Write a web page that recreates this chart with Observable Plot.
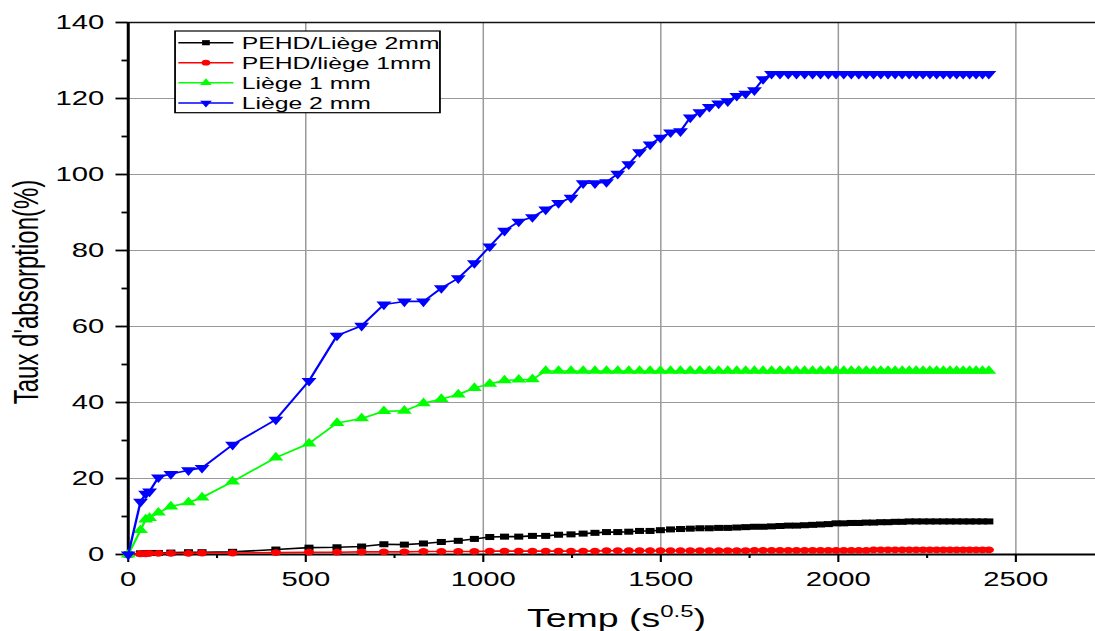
<!DOCTYPE html>
<html>
<head>
<meta charset="utf-8">
<script src="https://cdn.jsdelivr.net/npm/d3@7"></script>
<script src="https://cdn.jsdelivr.net/npm/@observablehq/plot@0.6"></script>
<style>
  body { margin: 0; background: #fff; }
  #chart svg { display: block; }
</style>
</head>
<body>
<div id="chart"></div>
<script>
// Time axis: square root of elapsed time (s^0.5)
const temps = [0, 34.6, 49.0, 60.0, 84.9, 120.0, 169.7, 207.8,
  293.9, 415.7, 509.1, 587.9, 657.3, 720.0, 777.7, 831.4, 881.8, 929.5,
  974.9, 1018.2, 1059.8, 1099.8, 1138.4, 1175.8, 1211.9, 1247.1, 1281.2, 1314.5,
  1347.0, 1378.7, 1409.7, 1440.0, 1469.7, 1498.8, 1527.4, 1555.4, 1582.9, 1610.0,
  1636.6, 1662.8, 1688.5, 1713.9, 1738.9, 1763.6, 1787.9, 1811.9, 1835.6, 1859.0,
  1882.1, 1904.9, 1927.5, 1949.8, 1971.8, 1993.6, 2015.2, 2036.5, 2057.6, 2078.5,
  2099.2, 2119.6, 2139.9, 2159.9, 2179.9, 2199.6, 2219.1, 2238.5, 2257.8, 2276.8,
  2295.7, 2314.5, 2333.1, 2351.5, 2369.8, 2388.0, 2406.0, 2423.9];

// Absorption rate (%) for each material
const pehdLiege2 = [0, 0.3, 0.3, 0.4, 0.4, 0.5, 0.6, 0.6,
  0.7, 1.3, 1.8, 1.9, 2.1, 2.7, 2.6, 2.9, 3.3, 3.6,
  4.1, 4.6, 4.7, 4.7, 4.9, 4.9, 5.2, 5.3, 5.5, 5.7,
  5.9, 5.9, 6.0, 6.2, 6.2, 6.4, 6.6, 6.7, 6.8, 6.9,
  6.9, 7.0, 7.0, 7.1, 7.2, 7.3, 7.3, 7.4, 7.5, 7.6,
  7.6, 7.7, 7.8, 7.9, 8.0, 8.2, 8.2, 8.3, 8.3, 8.4,
  8.4, 8.5, 8.5, 8.6, 8.6, 8.7, 8.7, 8.7, 8.7, 8.7,
  8.7, 8.7, 8.7, 8.7, 8.7, 8.7, 8.7, 8.7];

const pehdLiege1 = [0, 0.2, 0.2, 0.3, 0.3, 0.3, 0.3, 0.4,
  0.4, 0.5, 0.6, 0.6, 0.7, 0.7, 0.7, 0.8, 0.8, 0.8,
  0.8, 0.9, 0.9, 0.9, 0.9, 0.9, 0.9, 0.9, 0.9, 0.9,
  1.0, 1.0, 1.0, 1.0, 1.0, 1.0, 1.0, 1.0, 1.0, 1.0,
  1.0, 1.0, 1.0, 1.0, 1.0, 1.1, 1.1, 1.1, 1.1, 1.1,
  1.1, 1.1, 1.1, 1.1, 1.1, 1.1, 1.1, 1.1, 1.1, 1.1,
  1.2, 1.2, 1.2, 1.2, 1.2, 1.2, 1.2, 1.2, 1.2, 1.2,
  1.2, 1.2, 1.2, 1.2, 1.2, 1.2, 1.2, 1.2];

const liege1 = [0, 6.4, 9.2, 9.6, 11.0, 12.6, 13.7, 15.0,
  19.2, 25.5, 29.2, 34.6, 35.8, 37.7, 37.8, 39.8, 40.9, 42.1,
  43.8, 44.9, 45.8, 46.0, 46.1, 48.3, 48.3, 48.3, 48.3, 48.3,
  48.3, 48.3, 48.3, 48.3, 48.3, 48.3, 48.3, 48.3, 48.3, 48.3,
  48.3, 48.3, 48.3, 48.3, 48.3, 48.3, 48.3, 48.3, 48.3, 48.3,
  48.3, 48.3, 48.3, 48.3, 48.3, 48.3, 48.3, 48.3, 48.3, 48.3,
  48.3, 48.3, 48.3, 48.3, 48.3, 48.3, 48.3, 48.3, 48.3, 48.3,
  48.3, 48.3, 48.3, 48.3, 48.3, 48.3, 48.3, 48.3];

const liege2 = [0, 13.9, 16.0, 16.6, 20.3, 21.2, 22.2, 22.8,
  28.9, 35.5, 45.7, 57.6, 60.2, 65.8, 66.6, 66.6, 70.1, 72.7,
  76.7, 81.1, 85.2, 87.6, 88.8, 90.8, 92.5, 93.9, 97.7, 97.7,
  98.0, 100.2, 102.7, 105.9, 107.9, 109.7, 111.1, 111.4, 115.0, 116.4,
  117.8, 118.7, 119.3, 120.7, 121.3, 122.2, 125.1, 126.5, 126.5, 126.5,
  126.5, 126.5, 126.5, 126.5, 126.5, 126.5, 126.5, 126.5, 126.5, 126.5,
  126.5, 126.5, 126.5, 126.5, 126.5, 126.5, 126.5, 126.5, 126.5, 126.5,
  126.5, 126.5, 126.5, 126.5, 126.5, 126.5, 126.5, 126.5];

const seriesNames = ["PEHD/Liège 2mm", "PEHD/liège 1mm", "Liège 1 mm", "Liège 2 mm"];
const seriesValues = [pehdLiege2, pehdLiege1, liege1, liege2];
const seriesColors = ["#000000", "#ff0000", "#00ff00", "#0000ff"];
const seriesSymbols = ["square", "circle", "triangle", "triangle"];
const seriesRotate = [0, 0, 0, 180];
const seriesR = [3.4, 3.4, 3.7, 3.7];

const xTicks = [0, 500, 1000, 1500, 2000, 2500];
const xMinorTicks = [250, 750, 1250, 1750, 2250];
const yTicks = [0, 20, 40, 60, 80, 100, 120, 140];
const yMinorTicks = [10, 30, 50, 70, 90, 110, 130];

const rows = [];
seriesValues.forEach((vals, s) => vals.forEach((v, i) => rows.push({serie: seriesNames[s], t: temps[i], v})));

// Drawn in a 730-wide frame, then widened to 1095 px on screen
const W = 730, H = 631, SCREEN_W = 1095;
const FONT = "'Liberation Sans', Arial, Helvetica, sans-serif";

const seriesMarks = [];
seriesNames.forEach((name, s) => {
  const data = rows.filter(d => d.serie === name);
  seriesMarks.push(Plot.line(data, {x: "t", y: "v", stroke: seriesColors[s], strokeWidth: 1.6}));
  seriesMarks.push(Plot.dot(data, {x: "t", y: "v", symbol: seriesSymbols[s], fill: seriesColors[s],
    r: seriesR[s], rotate: seriesRotate[s], stroke: "none"}));
});

const chart = Plot.plot({
  width: W, height: H,
  marginLeft: 85, marginRight: 0, marginTop: 22, marginBottom: 77,
  style: {fontFamily: FONT, fontSize: "19.5px", color: "#000", background: "#fff"},
  x: {domain: [0, 2725], label: null},
  y: {domain: [0, 140], label: null},
  marks: [
    Plot.gridX(xTicks, {stroke: "#9a9a9a", strokeOpacity: 1, strokeWidth: 1}),
    Plot.gridY(yTicks, {stroke: "#9a9a9a", strokeOpacity: 1, strokeWidth: 1}),
    Plot.ruleY([140], {stroke: "#111", strokeWidth: 1.6}),
    Plot.axisX(xTicks, {tickSize: 8, tickPadding: 10, strokeWidth: 1.4, label: null, fontSize: 19.5,
      tickFormat: d => String(d)}),
    Plot.axisX(xMinorTicks, {tickSize: 4, text: null, strokeWidth: 1.4, label: null}),
    Plot.axisY(yTicks, {tickSize: 8, tickPadding: 8, strokeWidth: 1.8, label: null, fontSize: 19.5,
      tickFormat: d => String(d)}),
    Plot.axisY(yMinorTicks, {tickSize: 4, text: null, strokeWidth: 1.8, label: null}),
    Plot.ruleX([0], {stroke: "#000", strokeWidth: 2}),
    Plot.ruleY([0], {stroke: "#000", strokeWidth: 2.2}),
    ...seriesMarks
  ]
});

const svg = d3.select(chart);

// Axis titles
const xTitle = svg.append("text")
  .attr("x", 411).attr("y", 627)
  .attr("text-anchor", "middle")
  .style("font-family", FONT).style("font-size", "25px").attr("fill", "#000");
xTitle.append("tspan").text("Temp (s");
xTitle.append("tspan").attr("dy", -10).style("font-size", "16px").text("0.5");
xTitle.append("tspan").attr("dy", 10).text(")");

svg.append("text")
  .attr("transform", "translate(25,292) rotate(-90)")
  .attr("text-anchor", "middle")
  .style("font-family", FONT).style("font-size", "24px").attr("fill", "#000")
  .text("Taux d'absorption(%)");

// Legend box
const lg = svg.append("g").attr("text-anchor", "start");
lg.append("rect")
  .attr("x", 116.7).attr("y", 31).attr("width", 176.6).attr("height", 81.7)
  .attr("fill", "#fff").attr("stroke", "#000").attr("stroke-width", 1.2);
const rowY = [42.7, 62.7, 82.7, 103];
const symbolTypes = {square: d3.symbolSquare, circle: d3.symbolCircle, triangle: d3.symbolTriangle};
seriesNames.forEach((name, s) => {
  const y = rowY[s];
  lg.append("line").attr("x1", 118.9).attr("x2", 155.6).attr("y1", y).attr("y2", y)
    .attr("stroke", seriesColors[s]).attr("stroke-width", 1.5);
  const size = Math.PI * 2.9 * 2.9;
  lg.append("path").attr("d", d3.symbol(symbolTypes[seriesSymbols[s]], size)())
    .attr("transform", `translate(137.3,${y}) rotate(${seriesRotate[s]})`)
    .attr("fill", seriesColors[s]);
  lg.append("text").attr("x", 161.1).attr("y", y).attr("dy", "0.36em")
    .attr("text-anchor", "start")
    .style("font-family", FONT).style("font-size", "16.5px").attr("fill", "#000")
    .text(name);
});

// Widen horizontally to the screen width
chart.setAttribute("width", SCREEN_W);
chart.setAttribute("height", H);
chart.setAttribute("preserveAspectRatio", "none");
chart.style.width = SCREEN_W + "px";
chart.style.height = H + "px";
chart.style.maxWidth = "none";

document.getElementById("chart").appendChild(chart);
</script>
</body>
</html>
